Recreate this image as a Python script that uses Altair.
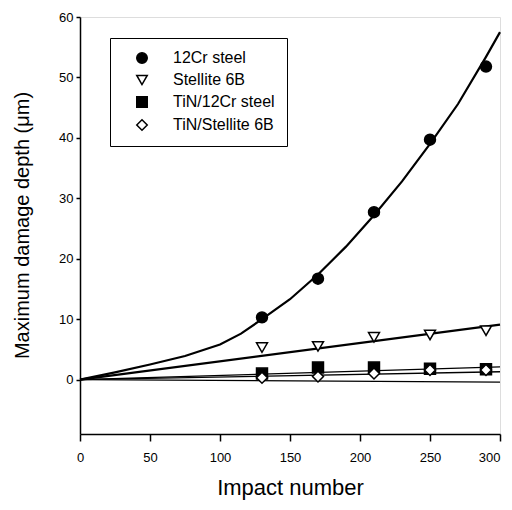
import altair as alt
import pandas as pd

series = ["12Cr steel", "Stellite 6B", "TiN/12Cr steel", "TiN/Stellite 6B"]
impacts = [130, 170, 210, 250, 290]
depth_12cr = [10.3, 16.7, 27.7, 39.7, 51.8]
depth_stellite = [5.3, 5.5, 7.0, 7.4, 8.1]
depth_tin_12cr = [1.0, 2.0, 2.0, 1.8, 1.7]
depth_tin_stellite = [0.3, 0.5, 1.0, 1.6, 1.6]

# fitted curves
fit_x_12cr = [0, 25, 50, 75, 100, 115, 130, 150, 170, 190, 210, 230, 250, 270, 290, 300]
fit_y_12cr = [0, 1.2, 2.5, 3.9, 5.8, 7.6, 10.0, 13.3, 17.4, 22.0, 27.2, 32.8, 39.0, 45.6, 53.4, 57.5]
fit_x_lin = [0, 300]
fit_y_stellite = [0, 9.1]
fit_y_tin_12cr = [0, 2.1]
fit_y_tin_stellite = [0, 1.3]
fit_y_base = [0, -0.4]

pts = []
for s, ys in zip(series, [depth_12cr, depth_stellite, depth_tin_12cr, depth_tin_stellite]):
    for x, y in zip(impacts, ys):
        pts.append({"series": s, "x": x, "y": y})
pts = pd.DataFrame(pts)

thick = []
for x, y in zip(fit_x_12cr, fit_y_12cr):
    thick.append({"curve": "12Cr", "x": x, "y": y})
for x, y in zip(fit_x_lin, fit_y_stellite):
    thick.append({"curve": "Stellite", "x": x, "y": y})
thick = pd.DataFrame(thick)

thin = []
for name, ys in [("TiN12", fit_y_tin_12cr), ("TiNSt", fit_y_tin_stellite), ("base", fit_y_base)]:
    for x, y in zip(fit_x_lin, ys):
        thin.append({"curve": name, "x": x, "y": y})
thin = pd.DataFrame(thin)

FONT = "Liberation Sans"

xscale = alt.Scale(domain=[0, 300], nice=False, zero=False)
yscale = alt.Scale(domain=[-9, 60], nice=False, zero=False)

xaxis = alt.Axis(values=[0, 50, 100, 150, 200, 250, 300], title="Impact number",
                 titleFontSize=22, titleFont=FONT, titleFontWeight="normal", titleColor="black",
                 titleY=53, titleBaseline="middle", titleX=210,
                 labelFont=FONT, labelFontSize=13, labelColor="black", labelPadding=10,
                 labelAlign=alt.expr("datum.value == 300 ? 'right' : 'center'"),
                 tickColor="black", tickSize=7, tickWidth=1.5, domainColor="black", domainWidth=1.5,
                 grid=False, labelFlush=False)
yaxis = alt.Axis(values=[0, 10, 20, 30, 40, 50, 60], title="Maximum damage depth (μm)",
                 titleFontSize=20, titleFont=FONT, titleFontWeight="normal", titleColor="black",
                 titleX=-58, titleY=208, titleBaseline="middle", titleAlign="center",
                 labelFont=FONT, labelFontSize=13, labelColor="black", labelPadding=3,
                 tickColor="black", tickSize=4, tickWidth=1.5, domainColor="black", domainWidth=1.5,
                 grid=False, labelFlush=False)

legend = alt.Legend(
    orient="none", legendX=30, legendY=21, title=None,
    strokeColor="black", fillColor="white",
    padding=12, rowPadding=5, symbolOffset=12,
    labelFont=FONT, labelFontSize=16, labelColor="black", labelOffset=23,
    symbolStrokeColor="black", symbolSize=110, symbolStrokeWidth=1.5,
)

l1 = alt.Chart(thick).mark_line(color="black", strokeWidth=2.2).encode(
    x=alt.X("x:Q", scale=xscale, axis=xaxis),
    y=alt.Y("y:Q", scale=yscale, axis=yaxis),
    detail="curve:N",
)
l2 = alt.Chart(thin).mark_line(color="black", strokeWidth=1.3).encode(
    x=alt.X("x:Q", scale=xscale),
    y=alt.Y("y:Q", scale=yscale),
    detail="curve:N",
)

p = alt.Chart(pts).mark_point(strokeWidth=1.5, size=120, opacity=1, filled=False).encode(
    x=alt.X("x:Q", scale=xscale),
    y=alt.Y("y:Q", scale=yscale),
    shape=alt.Shape("series:N", legend=legend,
                    scale=alt.Scale(domain=series, range=["circle", "triangle-down", "square", "diamond"])),
    fill=alt.Fill("series:N", legend=legend,
                  scale=alt.Scale(domain=series, range=["black", "white", "black", "white"])),
    stroke=alt.Stroke("series:N", legend=legend,
                      scale=alt.Scale(domain=series, range=["black", "black", "black", "black"])),
)

chart = alt.layer(l1, l2, p).properties(
    width=420, height=417,
    autosize=alt.AutoSizeParams(type="none"),
    padding={"left": 72, "top": 9, "right": 4, "bottom": 66},
).configure_view(
    stroke="black", strokeWidth=1.5
).configure(background="white")

chart.save("out.html", embed_options={"renderer": "svg", "actions": False})
